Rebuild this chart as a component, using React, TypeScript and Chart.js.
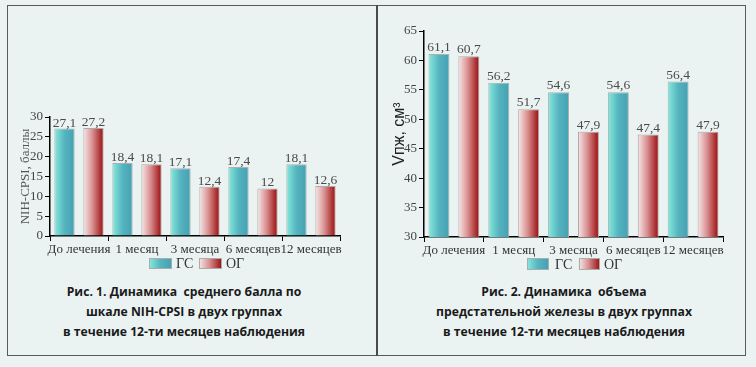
import React, { useEffect, useRef } from "react";
import { Chart, registerables } from "chart.js";

Chart.register(...registerables);

// Observation periods and study groups
const periods = ["До лечения", "1 месяц", "3 месяца", "6 месяцев", "12 месяцев"];
const groupNames = ["ГС", "ОГ"];

// Mean NIH-CPSI score, points
const nihGS = [27.1, 18.4, 17.1, 17.4, 18.1];
const nihOG = [27.2, 18.1, 12.4, 12.0, 12.6];
const nihAxis = { min: 0, max: 30, step: 5 };

// Prostate volume, cm³
const volGS = [61.1, 56.2, 54.6, 54.6, 56.4];
const volOG = [60.7, 51.7, 47.9, 47.4, 47.9];
const volAxis = { min: 30, max: 65, step: 5 };

const SERIF = "'Liberation Serif', 'Times New Roman', serif";
const SANS = "'Liberation Sans', Arial, sans-serif";

type Stops = [number, string][];
const tealStops: Stops = [
  [0, "#86eadc"],
  [0.5, "#55b4bf"],
  [1, "#45a0b2"],
];
const redStops: Stops = [
  [0, "#f7e8e8"],
  [0.45, "#d98f90"],
  [1, "#990b0c"],
];

const CAT_PCT = 1;
const BAR_PCT = 0.7;

function fillGradient(ctx2d: CanvasRenderingContext2D, x0: number, x1: number, stops: Stops) {
  const g = ctx2d.createLinearGradient(x0, 0, x1, 0);
  stops.forEach(([o, c]) => g.addColorStop(o, c));
  return g;
}

// Horizontal gradient computed for each bar from the category scale
function barFill(stops: Stops) {
  return (ctx: any) => {
    const chart = ctx.chart;
    const xs = chart.scales && chart.scales.x;
    if (!xs || !xs.width || ctx.dataIndex === undefined) return stops[1][1];
    const n = chart.data.labels.length;
    const cat = xs.width / n;
    const slot = (cat * CAT_PCT) / 2;
    const center = xs.getPixelForValue(ctx.dataIndex) + (ctx.datasetIndex - 0.5) * slot;
    const w = slot * BAR_PCT;
    return fillGradient(chart.ctx, center - w / 2, center + w / 2, stops);
  };
}

const fmt = (v: number) => (Number.isInteger(v) ? String(v) : v.toFixed(1).replace(".", ","));

// Value labels above bars and a gradient legend under the axis
const barExtras = {
  id: "barExtras",
  afterDatasetsDraw(chart: any, _args: any, opts: any) {
    const c = chart.ctx;
    const gap = (opts && opts.labelGap) || 3;
    c.save();
    c.font = `13.5px ${SERIF}`;
    c.fillStyle = "#4a4a4a";
    c.textAlign = "center";
    c.textBaseline = "alphabetic";
    chart.data.datasets.forEach((ds: any, di: number) => {
      chart.getDatasetMeta(di).data.forEach((el: any, i: number) => {
        c.fillText(fmt(ds.data[i]), el.x, el.y - gap);
      });
    });
    c.restore();
  },
  afterDraw(chart: any, _args: any, opts: any) {
    if (!opts || !opts.items) return;
    const c = chart.ctx;
    c.save();
    c.font = `14px ${SERIF}`;
    c.textBaseline = "middle";
    c.textAlign = "left";
    opts.items.forEach((it: any, k: number) => {
      const stops = k === 0 ? tealStops : redStops;
      c.fillStyle = fillGradient(c, it.x, it.x + it.w, stops);
      c.fillRect(it.x, opts.y, it.w, opts.h);
      c.strokeStyle = "#a8acac";
      c.lineWidth = 1;
      c.strokeRect(it.x + 0.5, opts.y + 0.5, it.w - 1, opts.h - 1);
      c.fillStyle = "#333";
      c.fillText(groupNames[k], it.tx, opts.y + opts.h / 2 + 1);
    });
    c.restore();
  },
};

interface PanelProps {
  gs: number[];
  og: number[];
  axis: { min: number; max: number; step: number };
  yTitle: string;
  yTitleFont: any;
  yTitleColor: string;
  yTitlePad: number;
  yWidth: number;
  xHeight: number;
  pad: { top: number; right: number };
  legend: any;
  width: number;
  height: number;
}

function BarPanel(p: PanelProps) {
  const ref = useRef<HTMLCanvasElement | null>(null);
  useEffect(() => {
    if (!ref.current) return;
    const chart = new Chart(ref.current, {
      type: "bar",
      data: {
        labels: periods,
        datasets: [
          {
            label: groupNames[0],
            data: p.gs,
            backgroundColor: barFill(tealStops),
            borderColor: "#a9b1b1",
            borderWidth: 1,
            categoryPercentage: CAT_PCT,
            barPercentage: BAR_PCT,
          },
          {
            label: groupNames[1],
            data: p.og,
            backgroundColor: barFill(redStops),
            borderColor: "#b0a8a8",
            borderWidth: 1,
            categoryPercentage: CAT_PCT,
            barPercentage: BAR_PCT,
          },
        ],
      },
      options: {
        animation: false,
        responsive: false,
        maintainAspectRatio: false,
        layout: { padding: { top: p.pad.top, right: p.pad.right, left: 0, bottom: 0 } },
        plugins: {
          legend: { display: false },
          tooltip: { enabled: false },
          barExtras: p.legend,
        } as any,
        scales: {
          x: {
            grid: { display: true, drawOnChartArea: false, drawTicks: true, tickLength: 5, color: "#000", offset: true },
            border: { display: true, color: "#000", width: 1.5 },
            ticks: { color: "#333", font: { family: SERIF, size: 13 }, padding: 1, maxRotation: 0, autoSkip: false },
            afterFit: (s: any) => {
              s.height = p.xHeight;
            },
          },
          y: {
            min: p.axis.min,
            max: p.axis.max,
            grid: { display: true, drawOnChartArea: false, drawTicks: true, tickLength: 5, color: "#000" },
            border: { display: true, color: "#000", width: 1.5 },
            ticks: { stepSize: p.axis.step, color: "#444", font: { family: SERIF, size: 13 }, padding: 2 },
            title: {
              display: true,
              text: p.yTitle,
              color: p.yTitleColor,
              font: p.yTitleFont,
              padding: { top: p.yTitlePad, bottom: 0 },
            },
            afterFit: (s: any) => {
              s.width = p.yWidth;
            },
          },
        },
      },
      plugins: [barExtras],
    });
    return () => chart.destroy();
  }, []);
  return <canvas ref={ref} width={p.width} height={p.height} style={{ display: "block", width: p.width, height: p.height }} />;
}

const captionStyle: React.CSSProperties = {
  position: "absolute",
  top: 282,
  width: 320,
  textAlign: "center",
  fontFamily: "'Open Sans', 'Noto Sans', sans-serif",
  fontWeight: 700,
  fontSize: 12.2,
  lineHeight: "20px",
  color: "#1a1a1a",
  whiteSpace: "pre",
};

export default function App() {
  useEffect(() => {
    document.body.style.margin = "0";
  }, []);
  const line = "#5a5a5a";
  return (
    <div style={{ position: "relative", width: 756, height: 367, background: "#eaf3f2", overflow: "hidden" }}>
      {/* frame */}
      <div style={{ position: "absolute", left: 7, top: 5, width: 739, height: 351, border: `1px solid ${line}`, boxSizing: "border-box" }} />
      <div style={{ position: "absolute", left: 376, top: 5, width: 2, height: 351, background: "#4a4a4a" }} />

      <div style={{ position: "absolute", left: 8, top: 6 }}>
        <BarPanel
          gs={nihGS}
          og={nihOG}
          axis={nihAxis}
          yTitle="NIH-CPSI, баллы"
          yTitleFont={{ family: SERIF, size: 13 }}
          yTitleColor="#555"
          yTitlePad={10}
          yWidth={42}
          xHeight={38}
          pad={{ top: 111, right: 36 }}
          legend={{ labelGap: 2, y: 252, h: 11, items: [{ x: 141, w: 23, tx: 168 }, { x: 191, w: 23, tx: 218 }] }}
          width={368}
          height={268}
        />
      </div>
      <div style={{ position: "absolute", left: 378, top: 6 }}>
        <BarPanel
          gs={volGS}
          og={volOG}
          axis={volAxis}
          yTitle="Vпж, см³"
          yTitleFont={{ family: SANS, size: 16 }}
          yTitleColor="#222"
          yTitlePad={12}
          yWidth={46}
          xHeight={37}
          pad={{ top: 25, right: 22 }}
          legend={{ labelGap: 3, y: 252, h: 12, items: [{ x: 149, w: 22, tx: 177 }, { x: 201, w: 21, tx: 226 }] }}
          width={367}
          height={268}
        />
      </div>

      <div style={{ ...captionStyle, left: 184 - 160 }}>
        {"Рис. 1. Динамика  среднего балла по\nшкале NIH-CPSI в двух группах\nв течение 12-ти месяцев наблюдения"}
      </div>
      <div style={{ ...captionStyle, left: 564 - 160 }}>
        {"Рис. 2. Динамика  объема\nпредстательной железы в двух группах\nв течение 12-ти месяцев наблюдения"}
      </div>
    </div>
  );
}
